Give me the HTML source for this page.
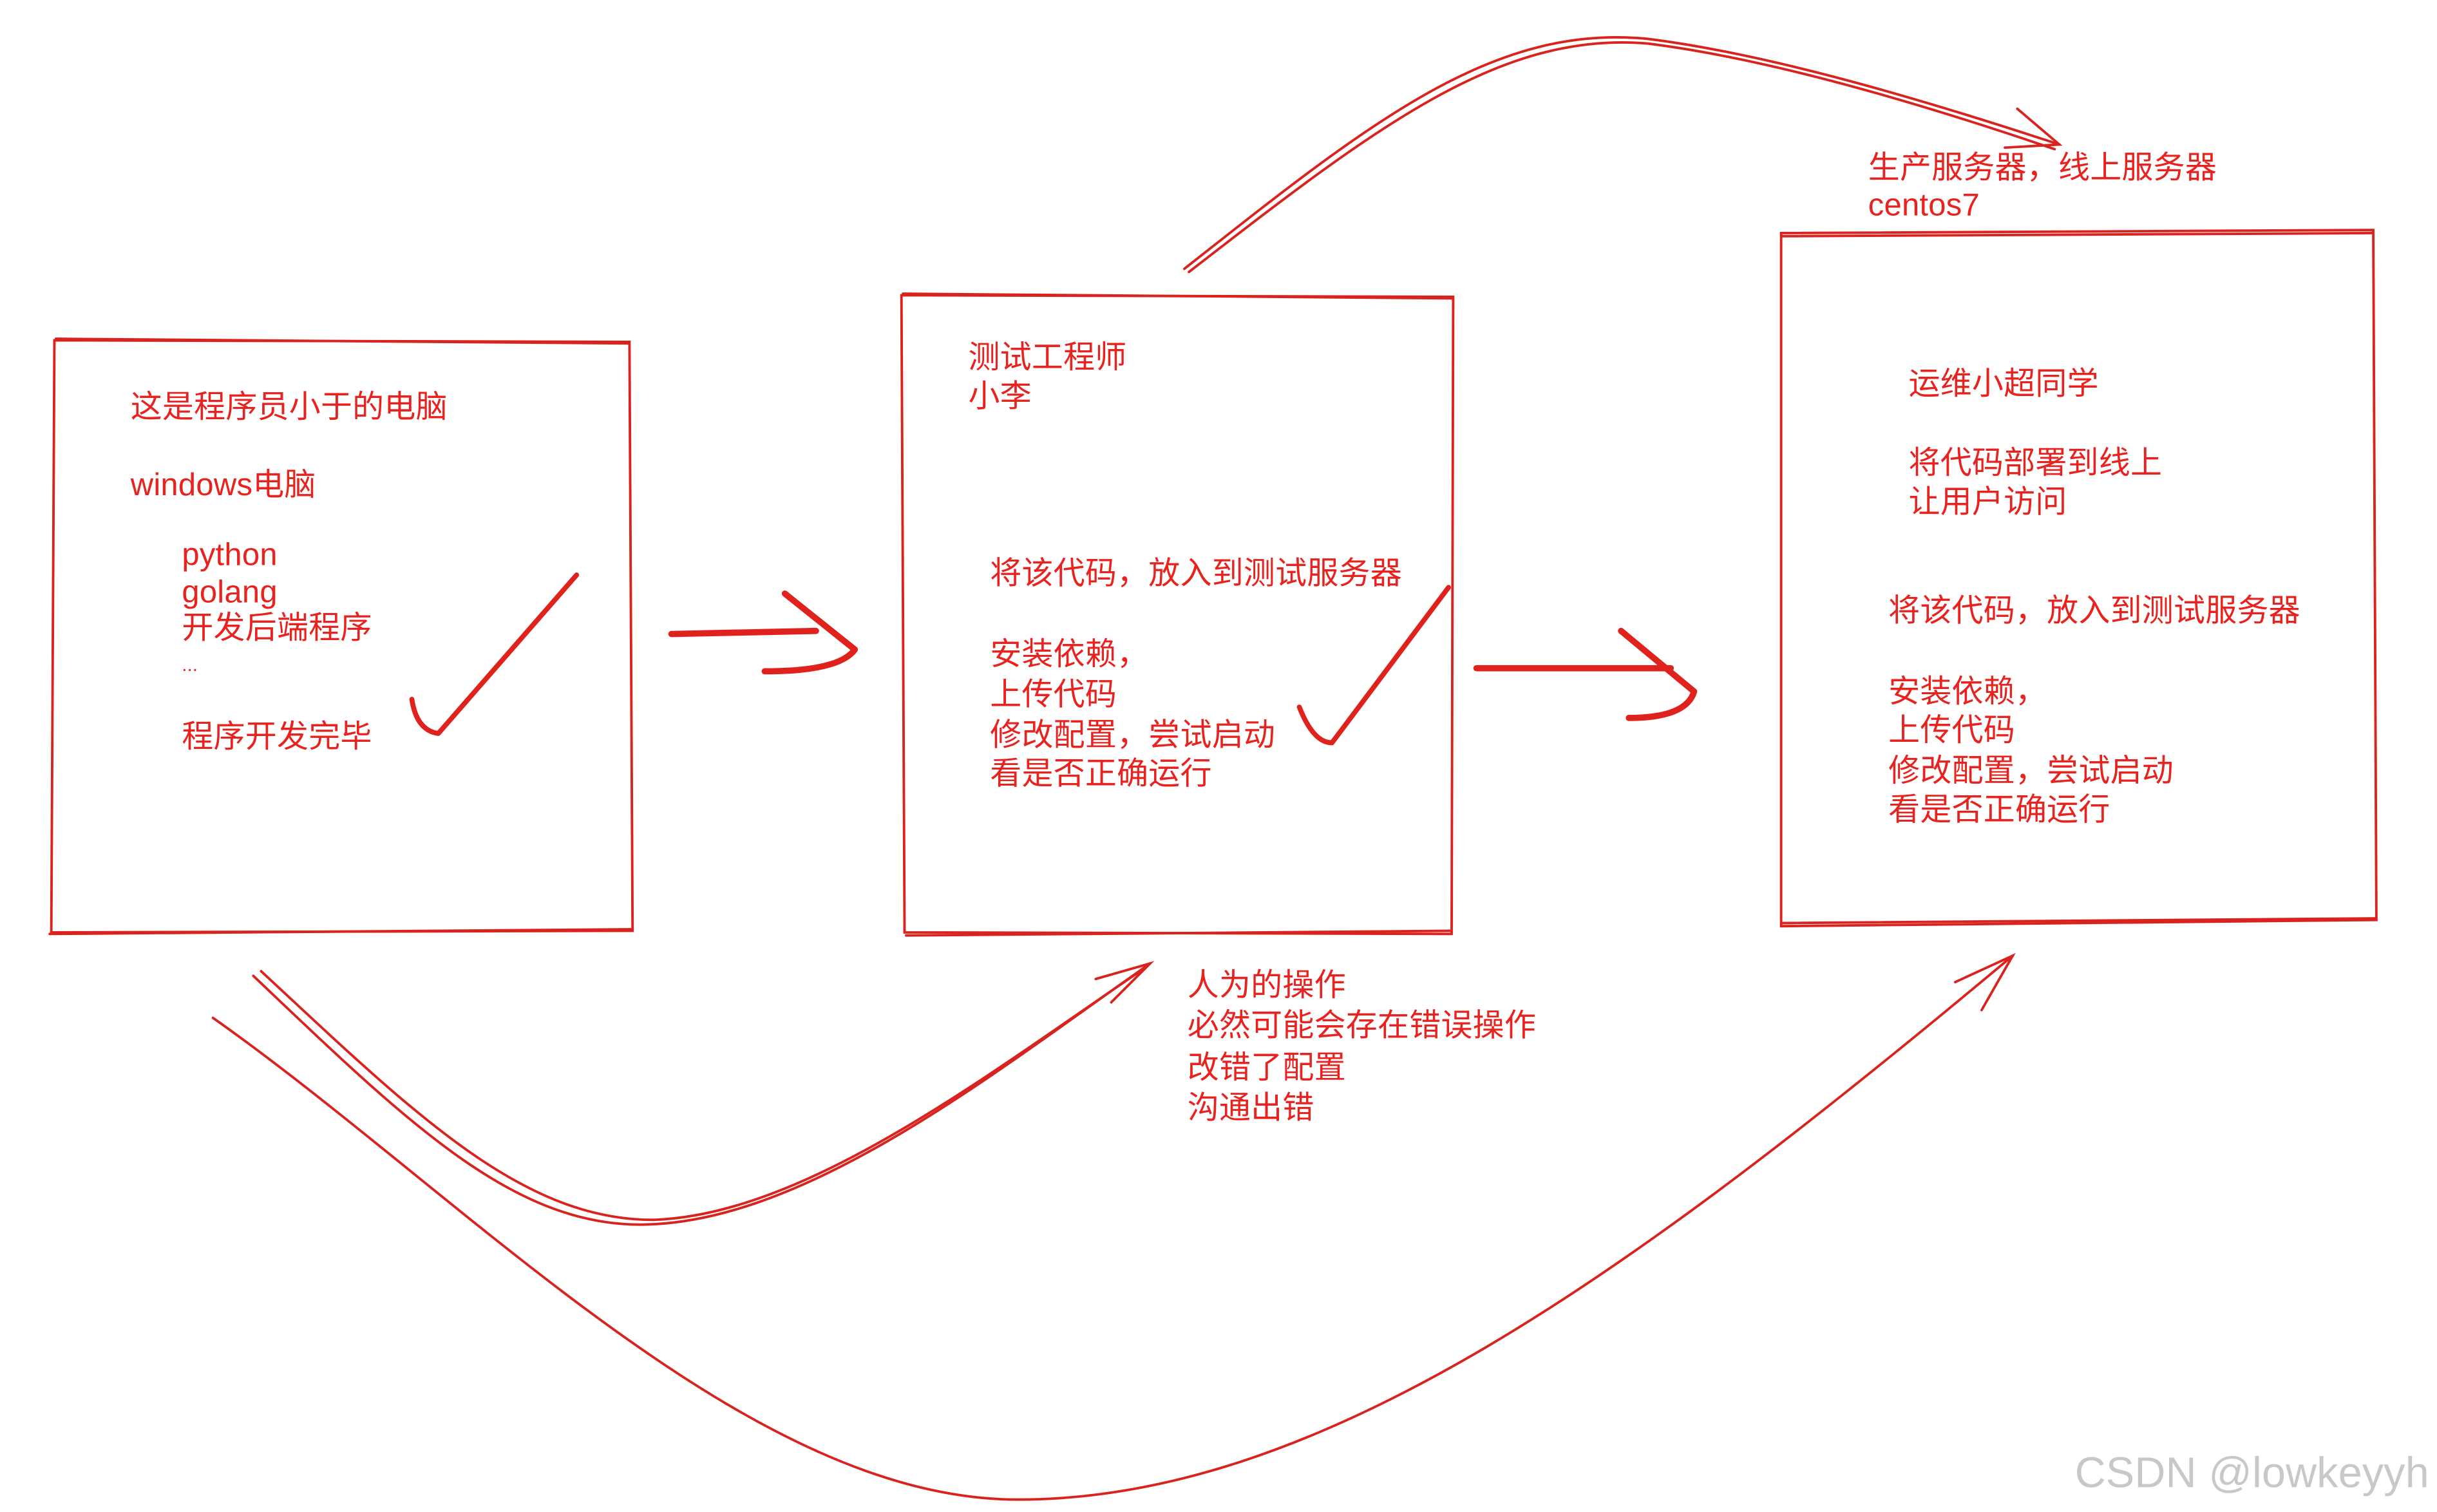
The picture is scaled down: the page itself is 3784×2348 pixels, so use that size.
<!DOCTYPE html>
<html><head><meta charset="utf-8"><style>
html,body{margin:0;padding:0;background:#fff;}
svg{display:block;}
text{font-family:"Liberation Sans","Noto Sans CJK SC",sans-serif;font-size:20.3px;letter-spacing:0.1px;fill:#e8231f;dominant-baseline:central;}
</style></head><body>
<svg width="3784" height="2348" viewBox="0 0 1568 973" preserveAspectRatio="none" xmlns="http://www.w3.org/2000/svg">
<rect width="1568" height="973" fill="#fff"/>
<g fill="none" stroke="#d8231f" stroke-width="1.6" stroke-linecap="round">
<path d="M35,219 L405,220 L407,599 L33,600 Z"/>
<path d="M36,218 L404,221 M32,601 L406,598"/>
<path d="M580,190 L935,191 L934,601 L582,600 Z"/>
<path d="M581,189 L934,192 M583,602 L933,599"/>
<path d="M1146,150 L1527,148 L1529,592 L1146,596 Z"/>
<path d="M1147,152 L1526,150 M1147,594 L1528,591"/>
<path d="M762,173 C880,80 960,15 1060,25 C1140,35 1240,65 1325,93"/>
<path d="M765,175 C885,82 965,20 1060,28 C1140,38 1240,68 1322,96"/>
<path d="M1298,70 L1325,93 L1290,95"/>
<path d="M163,628 C260,720 330,790 415,788 C520,786 640,690 740,620"/>
<path d="M168,625 C265,715 335,785 420,785 C520,782 640,688 738,622"/>
<path d="M705,630 L740,620 L715,645"/>
<path d="M137,655 C300,770 480,965 655,965 C850,965 1050,820 1295,615"/>
<path d="M1258,632 L1295,615 L1275,650"/>
</g>
<g fill="none" stroke="#e0221c" stroke-width="4" stroke-linecap="round" stroke-linejoin="round">
<path d="M432,408 L525,406"/>
<path d="M505,382 L550,418 Q540,432 492,432"/>
<path d="M950,430 L1075,430"/>
<path d="M1043,406 L1090,445 Q1085,462 1048,462"/>
<path d="M265,450 Q268,470 282,472 L371,370" stroke-width="3.2"/>
<path d="M836,455 Q845,478 857,478 L932,378" stroke-width="3.2"/>
</g>
<text x="84" y="262">这是程序员小于的电脑</text>
<text x="84" y="312">windows电脑</text>
<text x="117" y="357">python</text>
<text x="117" y="381">golang</text>
<text x="117" y="404">开发后端程序</text>
<text x="117" y="428" style="font-size:12px">...</text>
<text x="117" y="474">程序开发完毕</text>
<text x="623" y="230">测试工程师</text>
<text x="623" y="255">小李</text>
<text x="637" y="369">将该代码，放入到测试服务器</text>
<text x="637" y="421">安装依赖，</text>
<text x="637" y="447">上传代码</text>
<text x="637" y="473">修改配置，尝试启动</text>
<text x="637" y="498">看是否正确运行</text>
<text x="1202" y="108">生产服务器，线上服务器</text>
<text x="1202" y="132">centos7</text>
<text x="1228" y="247">运维小超同学</text>
<text x="1228" y="298">将代码部署到线上</text>
<text x="1228" y="323">让用户访问</text>
<text x="1215" y="393">将该代码，放入到测试服务器</text>
<text x="1215" y="445">安装依赖，</text>
<text x="1215" y="470">上传代码</text>
<text x="1215" y="496">修改配置，尝试启动</text>
<text x="1215" y="521">看是否正确运行</text>
<text x="764" y="634">人为的操作</text>
<text x="764" y="660">必然可能会存在错误操作</text>
<text x="764" y="687">改错了配置</text>
<text x="764" y="713">沟通出错</text>
<text x="1335" y="948" style="fill:#c8c8c8;font-size:27.5px">CSDN @lowkeyyh</text>
</svg>
</body></html>
